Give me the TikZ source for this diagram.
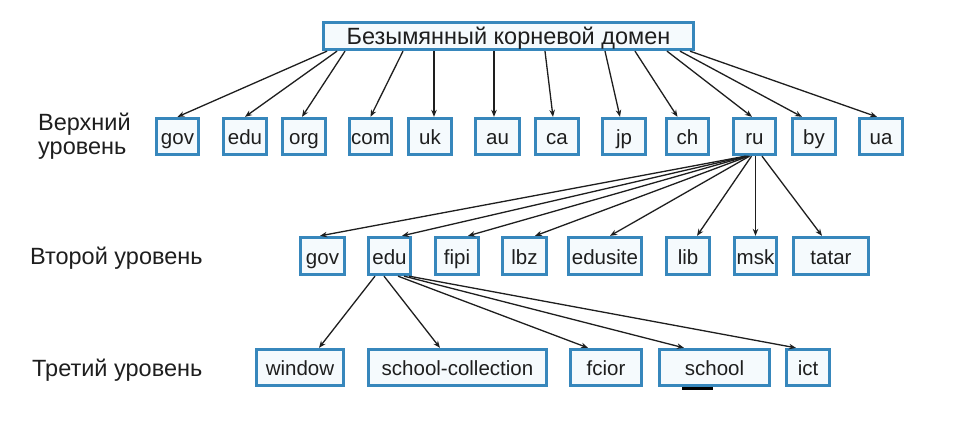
\documentclass[tikz,border=0pt]{standalone}
\usepackage{fontspec}
\setmainfont{Liberation Sans}
\usetikzlibrary{arrows.meta}
\definecolor{boxblue}{RGB}{55,135,188}
\definecolor{boxfill}{RGB}{245,250,253}
\definecolor{txt}{RGB}{30,30,30}
\begin{document}
\begin{tikzpicture}[x=1pt,y=-1pt,
  dbox/.style={draw=boxblue, fill=boxfill, line width=2.8pt, inner sep=0pt,
     text=txt, font=\fontsize{20.5}{24}\selectfont, text height=18pt, text depth=2pt,
     minimum height=#1},
  dbox/.default=36.5pt,
  arr/.style={draw=txt, line width=1.3pt, -{Stealth[length=7pt,width=5.5pt]}},
  lvl/.style={anchor=west, align=left, inner sep=0pt, text=txt,
     font=\fontsize{23.5}{24}\selectfont}]
\useasboundingbox[fill=white] (0,0) rectangle (962,434);

% root
\node[dbox=27.5pt, minimum width=370.5pt, font=\fontsize{23.5}{26}\selectfont, text height=19pt, text depth=3pt] (root) at (508.5,36) {Безымянный корневой домен};

% level labels
\node[lvl] (l1) at (38,136) {Верхний\\уровень};
\node[lvl] (l2) at (30,258) {Второй уровень};
\node[lvl] (l3) at (32,370) {Третий уровень};

% row 1
\node[dbox, minimum width=42.5pt] (gov) at (177.5,136.5) {gov};
\node[dbox, minimum width=43.5pt] (edu) at (245,136.5) {edu};
\node[dbox, minimum width=43.5pt] (org) at (304,136.5) {org};
\node[dbox, minimum width=42.5pt] (com) at (370.5,136.5) {com};
\node[dbox, minimum width=43.5pt] (uk) at (430,136.5) {uk};
\node[dbox, minimum width=44.5pt] (au) at (497.5,136.5) {au};
\node[dbox, minimum width=43.5pt] (ca) at (557,136.5) {ca};
\node[dbox, minimum width=43.5pt] (jp) at (624,136.5) {jp};
\node[dbox, minimum width=42.5pt] (ch) at (687.5,136.5) {ch};
\node[dbox, minimum width=42.5pt] (ru) at (754.5,136.5) {ru};
\node[dbox, minimum width=43.5pt] (by) at (814,136.5) {by};
\node[dbox, minimum width=43.5pt] (ua) at (881,136.5) {ua};

% row 2
\node[dbox=37.5pt, minimum width=44.5pt] (gov2) at (322.5,256) {gov};
\node[dbox=37.5pt, minimum width=42.5pt] (edu2) at (389.5,256) {edu};
\node[dbox=37.5pt, minimum width=43.5pt] (fipi) at (457,256) {fipi};
\node[dbox=37.5pt, minimum width=44.5pt] (lbz) at (524.5,256) {lbz};
\node[dbox=37.5pt, minimum width=73.5pt] (edusite) at (605,256) {edusite};
\node[dbox=37.5pt, minimum width=43.5pt] (lib) at (688,256) {lib};
\node[dbox=37.5pt, minimum width=42.5pt] (msk) at (755.5,256) {msk};
\node[dbox=37.5pt, minimum width=75.5pt] (tatar) at (831,256) {tatar};

% row 3
\node[dbox, minimum width=87.5pt] (window) at (300,367.5) {window};
\node[dbox, minimum width=178.5pt] (scoll) at (457.5,367.5) {school-collection};
\node[dbox, minimum width=71.5pt] (fcior) at (606,367.5) {fcior};
\node[dbox, minimum width=110.5pt] (school) at (714.5,367.5) {school};
\node[dbox, minimum width=43.5pt] (ict) at (808,367.5) {ict};

% root -> row 1
\draw[arr] ([xshift=-181.5pt]root.south) -- ([xshift=0pt]gov.north);
\draw[arr] ([xshift=-171.5pt]root.south) -- ([xshift=0pt]edu.north);
\draw[arr] ([xshift=-163.5pt]root.south) -- ([xshift=-2pt]org.north);
\draw[arr] ([xshift=-105.5pt]root.south) -- ([xshift=0pt]com.north);
\draw[arr] ([xshift=4pt]uk.north |- root.south) -- ([xshift=4pt]uk.north);
\draw[arr] ([xshift=-3.5pt]au.north |- root.south) -- ([xshift=-3.5pt]au.north);
\draw[arr] ([xshift=36.5pt]root.south) -- ([xshift=-4pt]ca.north);
\draw[arr] ([xshift=96.5pt]root.south) -- ([xshift=-4pt]jp.north);
\draw[arr] ([xshift=126.5pt]root.south) -- ([xshift=-10pt]ch.north);
\draw[arr] ([xshift=158.5pt]root.south) -- ([xshift=-2.5pt]ru.north);
\draw[arr] ([xshift=171.5pt]root.south) -- ([xshift=-12pt]by.north);
\draw[arr] ([xshift=181.5pt]root.south) -- ([xshift=-4pt]ua.north);

% ru -> row 2
\draw[arr] ([xshift=-9pt]ru.south) -- ([xshift=-2.5pt]gov2.north);
\draw[arr] ([xshift=-8pt]ru.south) -- ([xshift=12.5pt]edu2.north);
\draw[arr] ([xshift=-7pt]ru.south) -- ([xshift=11pt]fipi.north);
\draw[arr] ([xshift=-6pt]ru.south) -- ([xshift=10.5pt]lbz.north);
\draw[arr] ([xshift=-5pt]ru.south) -- ([xshift=5pt]edusite.north);
\draw[arr] ([xshift=-3pt]ru.south) -- ([xshift=9pt]lib.north);
\draw[arr] (msk.north |- ru.south) -- (msk.north);
\draw[arr] ([xshift=7.5pt]ru.south) -- ([xshift=-9pt]tatar.north);

% edu -> row 3
\draw[arr] ([xshift=-14.5pt]edu2.south) -- ([xshift=19pt]window.north);
\draw[arr] ([xshift=-5.5pt]edu2.south) -- ([xshift=-17.5pt]scoll.north);
\draw[arr] ([xshift=8.5pt]edu2.south) -- ([xshift=-18pt]fcior.north);
\draw[arr] ([xshift=14.5pt]edu2.south) -- ([xshift=-30.5pt]school.north);
\draw[arr] ([xshift=19.5pt]edu2.south) -- ([xshift=-12pt]ict.north);

% dark mark under "school"
\draw[line width=3pt, black] ([xshift=-32.5pt,yshift=-1pt]school.south) -- ([xshift=-1.5pt,yshift=-1pt]school.south);
\end{tikzpicture}
\end{document}
